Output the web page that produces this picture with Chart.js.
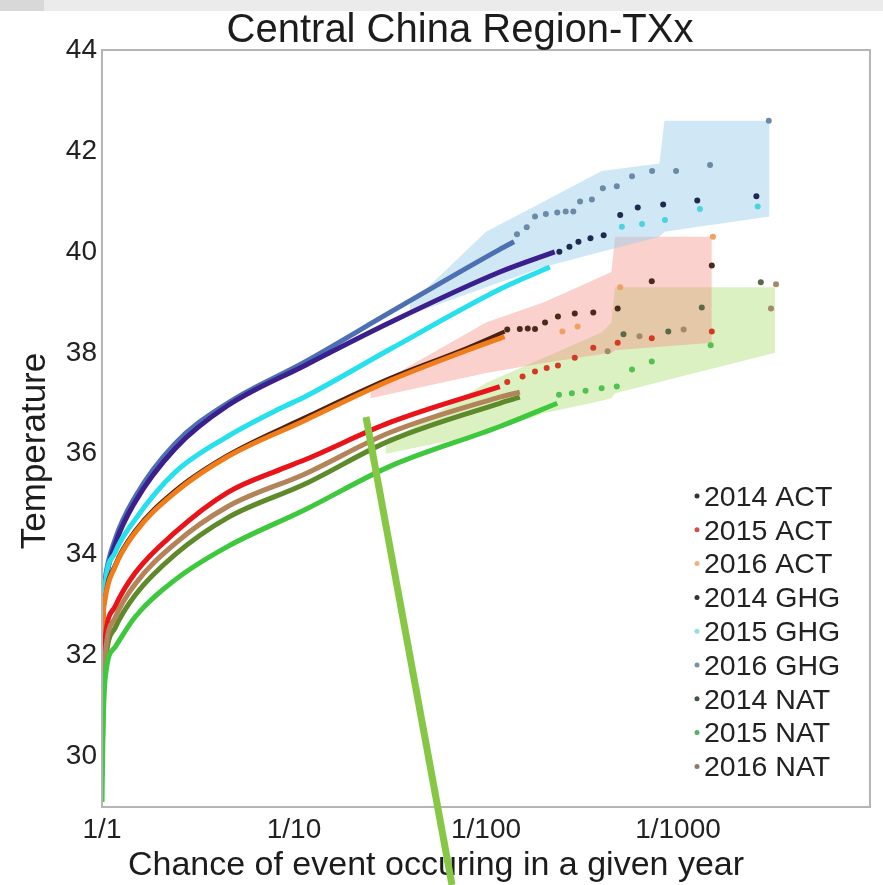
<!DOCTYPE html>
<html>
<head>
<meta charset="utf-8">
<script src="https://cdn.jsdelivr.net/npm/chart.js@4.4.1/dist/chart.umd.min.js"></script>
<style>
  html, body { margin: 0; padding: 0; background: #fff; }
  #wrap { width: 883px; height: 885px; position: relative; }
</style>
</head>
<body>
<div id="wrap"><canvas id="chart"></canvas></div>
<script>
const chartTitle = "Central China Region-TXx";
const xTitle = "Chance of event occuring in a given year";
const yTitle = "Temperature";

const xTickValues = [1, 10, 100, 1000];
const xTickLabels = ["1/1", "1/10", "1/100", "1/1000"];
const yTickValues = [30, 32, 34, 36, 38, 40, 42, 44];

const seriesNames = ["2014 ACT", "2015 ACT", "2016 ACT", "2014 GHG", "2015 GHG", "2016 GHG", "2014 NAT", "2015 NAT", "2016 NAT"];

// [return period, temperature]
const act2014Line = [[1, 30.8], [1.01, 32.4], [1.036, 33.1], [1.17, 33.8], [1.49, 34.48], [2.4, 35.27], [4.5, 35.97], [11.4, 36.72], [31.6, 37.5], [80, 38.1], [125, 38.42]];
const act2015Line = [[1, 30.0], [1.01, 31.5], [1.036, 32.3], [1.17, 32.97], [1.49, 33.64], [2.4, 34.44], [4.5, 35.23], [8.5, 35.69], [11.4, 35.88], [31.6, 36.62], [118, 37.33]];
const act2016Line = [[1, 31.0], [1.01, 32.5], [1.036, 33.1], [1.17, 33.76], [1.49, 34.44], [2.4, 35.23], [4.5, 35.94], [11.4, 36.66], [31.6, 37.45], [80, 38.05], [125, 38.32]];
const ghg2014Line = [[1, 32.8], [1.036, 33.4], [1.17, 34.2], [1.49, 35.05], [2.4, 36.1], [4.5, 36.95], [11.4, 37.75], [31.6, 38.6], [118, 39.6], [228, 40.0]];
const ghg2015Line = [[1, 32.4], [1.036, 33.37], [1.17, 34.04], [1.49, 34.7], [2.4, 35.63], [4.5, 36.34], [8.5, 36.9], [11.4, 37.13], [31.6, 38.07], [118, 39.26], [215, 39.7]];
const ghg2016Line = [[1, 32.9], [1.036, 33.5], [1.17, 34.3], [1.49, 35.15], [2.4, 36.2], [4.5, 37.0], [11.4, 37.82], [31.6, 38.8], [118, 40.05], [140, 40.2]];
const nat2014Line = [[1, 29.6], [1.01, 30.65], [1.036, 31.75], [1.17, 32.55], [1.49, 33.2], [2.4, 34.0], [4.5, 34.73], [11.4, 35.4], [31.6, 36.26], [118, 37.0], [150, 37.12]];
const nat2015Line = [[1, 29.1], [1.01, 30.3], [1.036, 31.5], [1.17, 32.17], [1.49, 32.77], [2.4, 33.5], [4.5, 34.16], [11.4, 34.89], [31.6, 35.75], [118, 36.54], [235, 37.0]];
const nat2016Line = [[1, 29.8], [1.01, 30.95], [1.036, 31.95], [1.17, 32.75], [1.49, 33.42], [2.4, 34.22], [4.5, 34.95], [11.4, 35.6], [31.6, 36.42], [118, 37.12], [150, 37.22]];

// tail (rarest events) plotted as single dots
const act2014Dots = [[129, 38.46], [150, 38.47], [165, 38.48], [180, 38.47], [203, 38.6], [237, 38.72], [290, 38.78], [362, 38.8], [485, 38.88], [730, 39.42], [1500, 39.73]];
const act2015Dots = [[129, 37.42], [155, 37.53], [180, 37.63], [207, 37.7], [237, 37.75], [290, 37.9], [362, 38.1], [485, 38.2], [730, 38.29], [1500, 38.42]];
const act2016Dots = [[250, 38.42], [300, 38.52], [500, 39.3], [1520, 40.3]];
const ghg2014Dots = [[241, 40.0], [272, 40.1], [303, 40.2], [350, 40.27], [410, 40.33], [500, 40.73], [617, 40.88], [837, 40.94], [1260, 41.02], [2560, 41.1]];
const ghg2015Dots = [[510, 40.5], [650, 40.55], [855, 40.63], [1300, 40.85], [2600, 40.9]];
const ghg2016Dots = [[145, 40.35], [163, 40.49], [180, 40.7], [205, 40.75], [235, 40.78], [260, 40.8], [285, 40.8], [309, 41.0], [356, 41.04], [406, 41.26], [480, 41.3], [576, 41.5], [733, 41.6], [977, 41.6], [1469, 41.72], [2970, 42.6]];
const nat2014Dots = [[520, 38.37], [890, 38.42], [1330, 38.9], [2700, 39.4]];
const nat2015Dots = [[240, 37.17], [280, 37.2], [330, 37.25], [400, 37.3], [480, 37.33], [576, 37.67], [730, 37.83], [1480, 38.15]];
const nat2016Dots = [[430, 38.03], [630, 38.33], [1070, 38.46], [3050, 38.88], [3240, 39.36]];

// uncertainty ranges
const ghgBandRP = [40, 100, 200, 400, 800, 850, 3000];
const ghgBandHigh = [38.95, 40.4, 41.0, 41.6, 41.75, 42.6, 42.6];
const ghgBandLow = [38.75, 39.3, 39.7, 40.0, 40.3, 40.4, 40.7];
const actBandRP = [25, 100, 200, 300, 450, 470, 1500];
const actBandHigh = [37.3, 38.6, 39.0, 39.3, 39.6, 40.3, 40.3];
const actBandLow = [37.1, 37.6, 37.8, 37.9, 38.0, 38.05, 38.2];
const natBandRP = [30, 100, 200, 400, 450, 470, 3200];
const natBandHigh = [36.2, 37.4, 37.9, 38.4, 38.6, 39.3, 39.3];
const natBandLow = [36.0, 36.4, 36.8, 37.05, 37.1, 37.2, 38.0];

const lineColors = ["#4a2212", "#e8141a", "#f07d1a", "#3b1f8c", "#27e0ee", "#4d70b2", "#5e8a2c", "#3ec83e", "#b3845a"];
const dotColors = ["#4a2a1a", "#d23a24", "#f0a060", "#1e2a50", "#4fd2e0", "#6a8aa8", "#5a6a48", "#52c052", "#a08a6a"];
const legendDotColors = ["#333", "#d05050", "#f0b080", "#333", "#8fdfe8", "#7890a8", "#445544", "#55b066", "#8a7a6a"];

const lines = [act2014Line, act2015Line, act2016Line, ghg2014Line, ghg2015Line, ghg2016Line, nat2014Line, nat2015Line, nat2016Line];
const dots = [act2014Dots, act2015Dots, act2016Dots, ghg2014Dots, ghg2015Dots, ghg2016Dots, nat2014Dots, nat2015Dots, nat2016Dots];

const toXY = arr => arr.map(p => ({ x: p[0], y: p[1] }));
const bandXY = (rp, t) => rp.map((r, i) => ({ x: r, y: t[i] }));

const datasets = [];
// first in this list ends up on top
const drawOrder = [7, 8, 6, 1, 2, 0, 4, 3, 5];
drawOrder.forEach(i => {
  datasets.push({
    label: seriesNames[i],
    data: toXY(lines[i]),
    borderColor: lineColors[i],
    borderWidth: i === 0 ? 4 : 5,
    pointRadius: 0,
    cubicInterpolationMode: "monotone",
    fill: false,
    order: 0
  });
});
dots.forEach((d, i) => {
  datasets.push({
    label: seriesNames[i] + " tail",
    data: toXY(d),
    showLine: false,
    pointRadius: 3,
    pointBorderWidth: 0,
    pointBackgroundColor: dotColors[i],
    order: 1
  });
});
const bands = [
  [ghgBandRP, ghgBandLow, ghgBandHigh, "rgba(150,205,235,0.45)"],
  [actBandRP, actBandLow, actBandHigh, "rgba(242,140,128,0.40)"],
  [natBandRP, natBandLow, natBandHigh, "rgba(170,222,110,0.42)"]
];
bands.forEach((b, k) => {
  datasets.push({
    label: "band low " + k,
    data: bandXY(b[0], b[1]),
    borderWidth: 0,
    pointRadius: 0,
    fill: false,
    order: 2 + k
  });
  datasets.push({
    label: "band high " + k,
    data: bandXY(b[0], b[2]),
    borderWidth: 0,
    pointRadius: 0,
    backgroundColor: b[3],
    fill: "-1",
    order: 2 + k
  });
});

const font = '"Liberation Sans", Arial, sans-serif';

const overlay = {
  id: "overlay",
  beforeDraw(chart) {
    const ctx = chart.ctx;
    ctx.save();
    ctx.fillStyle = "#fff";
    ctx.fillRect(0, 0, chart.width, chart.height);
    ctx.restore();
  },
  afterDraw(chart) {
    const { ctx, chartArea: a } = chart;
    ctx.save();
    ctx.strokeStyle = "#b5b5b5";
    ctx.lineWidth = 2;
    ctx.strokeRect(a.left, a.top, a.right - a.left, a.bottom - a.top);

    ctx.fillStyle = "#1c1c1c";
    ctx.textAlign = "center";
    ctx.textBaseline = "alphabetic";
    ctx.font = "40px " + font;
    ctx.fillText(chartTitle, 460, 42);
    ctx.font = "34px " + font;
    ctx.fillText(xTitle, 436, 875);

    ctx.save();
    ctx.translate(45, 451);
    ctx.rotate(-Math.PI / 2);
    ctx.font = "35px " + font;
    ctx.fillText(yTitle, 0, 0);
    ctx.restore();

    // legend
    ctx.font = "28.5px " + font;
    ctx.textAlign = "left";
    ctx.textBaseline = "middle";
    seriesNames.forEach((name, i) => {
      const y = 498 + i * 33.8;
      ctx.fillStyle = legendDotColors[i];
      ctx.beginPath();
      ctx.arc(697, y - 2, 2.5, 0, Math.PI * 2);
      ctx.fill();
      ctx.fillStyle = "#222";
      ctx.fillText(name, 704, y);
    });

    // grey strip at the top of the screenshot
    ctx.fillStyle = "#ebebeb";
    ctx.fillRect(0, 0, chart.width, 11);
    ctx.fillStyle = "#d8d8d8";
    ctx.fillRect(0, 0, 44, 11);

    // green pointer line
    ctx.strokeStyle = "#86c846";
    ctx.lineWidth = 7;
    ctx.lineCap = "butt";
    ctx.beginPath();
    ctx.moveTo(366, 417);
    ctx.lineTo(452, 885);
    ctx.stroke();
    ctx.restore();
  }
};

new Chart(document.getElementById("chart"), {
  type: "line",
  data: { datasets },
  options: {
    responsive: true,
    maintainAspectRatio: false,
    animation: false,
    events: [],
    layout: { padding: { left: 0, top: 50, right: 13, bottom: 0 } },
    plugins: {
      legend: { display: false },
      tooltip: { enabled: false },
      title: { display: false }
    },
    scales: {
      x: {
        type: "logarithmic",
        min: 1,
        max: 10000,
        grid: { display: false, drawTicks: false },
        border: { display: false },
        afterBuildTicks: s => { s.ticks = xTickValues.map(v => ({ value: v })); },
        afterFit: s => { s.height = 78; },
        ticks: {
          autoSkip: false,
          maxRotation: 0,
          padding: 6,
          color: "#222",
          font: { family: font, size: 28 },
          callback: (v) => {
            const i = xTickValues.indexOf(v);
            return i >= 0 ? xTickLabels[i] : "";
          }
        }
      },
      y: {
        min: 29,
        max: 44,
        grid: { display: false, drawTicks: false },
        border: { display: false },
        afterBuildTicks: s => { s.ticks = yTickValues.map(v => ({ value: v })); },
        afterFit: s => { s.width = 102; },
        ticks: {
          padding: 5,
          color: "#222",
          font: { family: font, size: 28 }
        }
      }
    }
  },
  plugins: [overlay]
});
</script>
</body>
</html>
